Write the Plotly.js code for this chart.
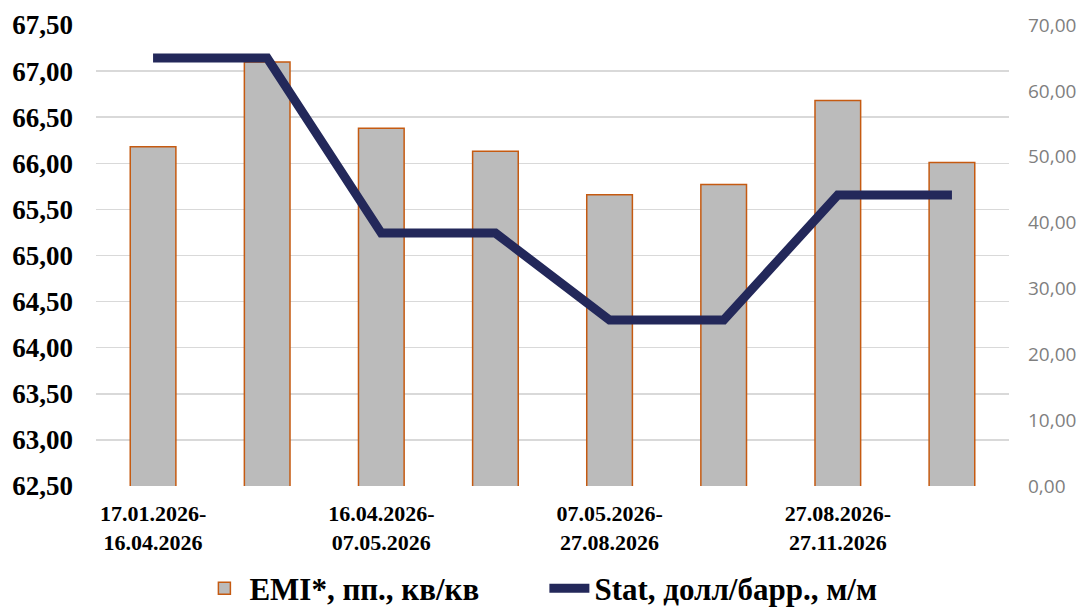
<!DOCTYPE html>
<html>
<head>
<meta charset="utf-8">
<script src="https://cdn.plot.ly/plotly-3.0.1.min.js"></script>
<style>html,body{margin:0;padding:0;background:#fff;}#chart{width:1078px;height:608px;}</style>
</head>
<body>
<div id="chart"></div>
<script>
const positions = [0, 1, 2, 3, 4, 5, 6, 7];
const tickPositions = [0, 2, 4, 6];
const tickLabels = ["17.01.2026-<br>16.04.2026", "16.04.2026-<br>07.05.2026", "07.05.2026-<br>27.08.2026", "27.08.2026-<br>27.11.2026"];
const emiValues = [66.18, 67.10, 66.38, 66.13, 65.66, 65.77, 66.68, 66.01];
const statValues = [65.0, 65.0, 38.4, 38.4, 25.2, 25.2, 44.2, 44.2];
const emiName = "EMI*, пп., кв/кв";
const statName = "Stat, долл/барр., м/м";

const serif = "'Liberation Serif', 'Times New Roman', serif";

const traces = [
  {
    type: "bar", x: positions, y: emiValues, name: emiName, yaxis: "y",
    marker: {color: "#bbbbbb", line: {color: "#c55a11", width: 1.5}},
    hoverinfo: "skip"
  },
  {
    type: "scatter", mode: "lines", x: positions, y: statValues, name: statName, yaxis: "y2",
    line: {color: "#23285a", width: 9},
    hoverinfo: "skip"
  }
];

const layout = {
  width: 1078, height: 608,
  margin: {l: 96, r: 69, t: 25, b: 122, autoexpand: false},
  paper_bgcolor: "#ffffff", plot_bgcolor: "#ffffff",
  separators: ", ",
  bargap: 0.6,
  showlegend: true,
  legend: {
    orientation: "h", xref: "container", x: 0.505, xanchor: "center",
    yref: "container", y: 0.032, yanchor: "middle",
    font: {family: serif, size: 31, color: "#000000", weight: "bold"},
    itemwidth: 40, tracegroupgap: 0, entrywidth: 290
  },
  xaxis: {
    range: [-0.5, 7.5],
    tickmode: "array", tickvals: tickPositions, ticktext: tickLabels,
    tickfont: {family: serif, size: 22, color: "#000000", weight: "bold"},
    showgrid: false, zeroline: false, showline: false, ticks: "",
    ticklabelstandoff: 12
  },
  yaxis: {
    range: [62.5, 67.5], tickmode: "linear", tick0: 62.5, dtick: 0.5,
    tickformat: ".2f",
    tickfont: {family: serif, size: 27, color: "#000000", weight: "bold"},
    showgrid: true, gridcolor: "#d9d9d9", gridwidth: 1.5,
    zeroline: false, showline: false, ticks: "",
    ticklabelstandoff: 22
  },
  yaxis2: {
    range: [0, 70], tickmode: "linear", tick0: 0, dtick: 10,
    tickformat: ".2f", overlaying: "y", side: "right",
    tickfont: {family: "'Open Sans', 'Noto Sans', sans-serif", size: 19, color: "#7f7f7f"},
    showgrid: false, zeroline: false, showline: false, ticks: "",
    ticklabelstandoff: 18
  }
};

Plotly.newPlot("chart", traces, layout, {displayModeBar: false, staticPlot: true});
</script>
</body>
</html>
